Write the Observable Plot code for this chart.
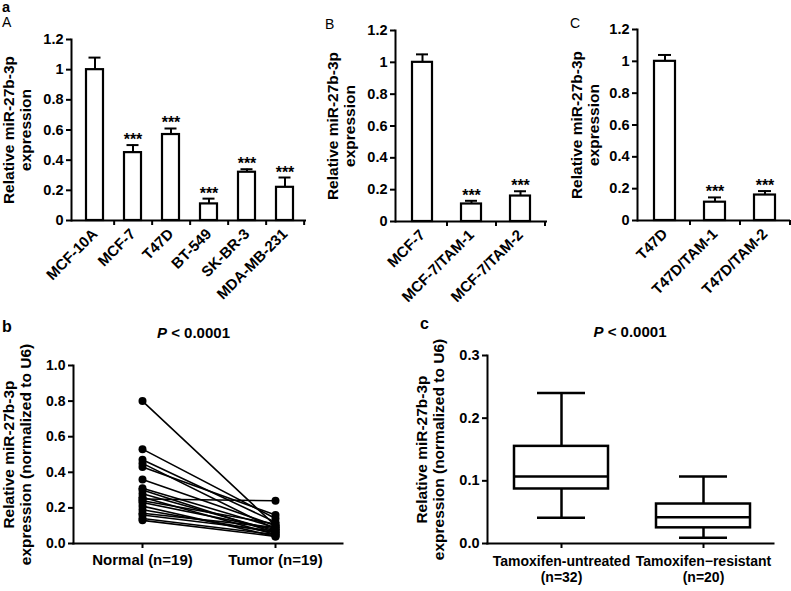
<!DOCTYPE html>
<html><head><meta charset="utf-8">
<script src="https://cdn.jsdelivr.net/npm/d3@7"></script>
<script src="https://cdn.jsdelivr.net/npm/@observablehq/plot@0.6"></script>
<style>
body{margin:0;background:#fff;}
#wrap{position:relative;width:791px;height:591px;overflow:hidden;font-family:"Liberation Sans",Arial,sans-serif;color:#000;background:#fff;}
#wrap svg{position:absolute;left:0;top:0;}
.lab{position:absolute;line-height:1;white-space:nowrap;}
</style></head><body><div id="wrap"></div>
<script>
// ---- Panel a: bar charts ----
const cellsA = ["MCF-10A","MCF-7","T47D","BT-549","SK-BR-3","MDA-MB-231"];
const valuesA = [1.0,0.45,0.57,0.11,0.32,0.22];
const errorsA = [0.08,0.05,0.04,0.035,0.02,0.065];
const starsA = ["","***","***","***","***","***"];

const cellsB = ["MCF-7","MCF-7/TAM-1","MCF-7/TAM-2"];
const valuesB = [1.0,0.11,0.16];
const errorsB = [0.05,0.02,0.03];
const starsB = ["","***","***"];

const cellsC = ["T47D","T47D/TAM-1","T47D/TAM-2"];
const valuesC = [1.0,0.115,0.16];
const errorsC = [0.04,0.03,0.025];
const starsC = ["","***","***"];

const barTicks = [0,0.2,0.4,0.6,0.8,1,1.2];
const barLabel = "Relative miR-27b-3p\nexpression";

// ---- Panel b: paired normal vs tumor ----
const groupsPaired = ["Normal (n=19)","Tumor (n=19)"];
const normalVals = [0.80,0.53,0.47,0.45,0.43,0.36,0.31,0.30,0.28,0.26,0.25,0.24,0.23,0.21,0.19,0.17,0.16,0.14,0.13];
const tumorVals  = [0.10,0.14,0.12,0.08,0.16,0.10,0.09,0.06,0.07,0.05,0.24,0.11,0.08,0.04,0.06,0.09,0.07,0.05,0.04];
const pairedTicks = [0,0.2,0.4,0.6,0.8,1.0];

// ---- Panel c: box plot ----
const boxGroups = ["Tamoxifen-untreated\n(n=32)","Tamoxifen\u2212resistant\n(n=20)"];
const boxMin = [0.041,0.009];
const boxQ1 = [0.087,0.025];
const boxMedian = [0.107,0.042];
const boxQ3 = [0.155,0.063];
const boxMax = [0.240,0.107];
const boxTicks = [0,0.1,0.2,0.3];

const lowerLabel = "Relative miR-27b-3p\nexpression (normalized to U6)";

const FONT = "'Liberation Sans', Arial, sans-serif";
const baseStyle = {fontFamily: FONT, fontWeight: "bold", fontSize: "14.5px", background: "transparent", color: "black", overflow: "visible"};

const wrap = document.getElementById("wrap");

function barPanel(cfg) {
  const rows = cfg.cats.map((c,i)=>({c, v: cfg.vals[i], e: cfg.errs[i], s: cfg.stars[i]}));
  const step = (cfg.range[1]-cfg.range[0]) / cfg.cats.length;
  return Plot.plot({
    width: 791, height: 591,
    marginLeft: cfg.mLeft, marginRight: cfg.mRight, marginTop: cfg.mTop, marginBottom: cfg.mBottom,
    x: {domain: cfg.cats, range: cfg.range, paddingInner: cfg.pad, paddingOuter: cfg.pad/2},
    y: {domain: [0, 1.2]},
    style: baseStyle,
    marks: [
      Plot.ruleX(rows, {x: "c", y1: "v", y2: d=>d.v+d.e, strokeWidth: 2}),
      Plot.tickY(rows, {x: "c", y: d=>d.v+d.e, strokeWidth: 2, insetLeft: cfg.cap, insetRight: cfg.cap}),
      Plot.barY(rows, {x: "c", y: "v", fill: "white", stroke: "black", strokeWidth: 2.2}),
      Plot.text(rows, {x: "c", y: d=>d.v+d.e, text: "s", lineAnchor: "bottom", fontSize: 16, dy: 0}),
      Plot.frame({anchor: "left", strokeWidth: 2}),
      Plot.ruleY([0], {strokeWidth: 2}),
      Plot.axisY({ticks: barTicks, tickSize: 5, tickPadding: 3, tickFormat: d3.format("~g"), label: null, strokeWidth: 2, fontSize: 14.5}),
      Plot.axisX({ticks: cfg.cats, tickSize: 5, dx: step/2, tickFormat: () => "", label: null, strokeWidth: 2}),
      Plot.axisX({tickSize: 0, tickRotate: -45, tickPadding: 11, label: null, fontSize: 15}),
      Plot.text([barLabel], {frameAnchor: "left", rotate: -90, dx: cfg.labelDx, fontSize: 15.5, lineHeight: 1.1, textAnchor: "middle", lineAnchor: "middle"})
    ]
  });
}

wrap.appendChild(barPanel({cats: cellsA, vals: valuesA, errs: errorsA, stars: starsA,
  mLeft: 71, mRight: 485, mTop: 39, mBottom: 371, range: [74.85, 304.65], pad: 0.556, cap: 2.5, labelDx: -54}));
wrap.appendChild(barPanel({cats: cellsB, vals: valuesB, errs: errorsB, stars: starsB,
  mLeft: 395, mRight: 244, mTop: 30, mBottom: 370, range: [397.5, 544.5], pad: 0.59, cap: 4, labelDx: -54}));
wrap.appendChild(barPanel({cats: cellsC, vals: valuesC, errs: errorsC, stars: starsC,
  mLeft: 637, mRight: 1, mTop: 29, mBottom: 371, range: [639, 789], pad: 0.58, cap: 4, labelDx: -52}));

// Panel b
const pairs = normalVals.flatMap((v,i)=>[{id:i, g:groupsPaired[0], v}, {id:i, g:groupsPaired[1], v: tumorVals[i]}]);
wrap.appendChild(Plot.plot({
  width: 791, height: 591,
  marginLeft: 73, marginRight: 449, marginTop: 365, marginBottom: 48,
  x: {type: "point", domain: groupsPaired, range: [142, 275], padding: 0},
  y: {domain: [0, 1.0]},
  style: baseStyle,
  marks: [
    Plot.line(pairs, {x: "g", y: "v", z: "id", strokeWidth: 1.6}),
    Plot.dot(pairs, {x: "g", y: "v", r: 4, fill: "black"}),
    Plot.frame({anchor: "left", strokeWidth: 2}),
    Plot.frame({anchor: "bottom", strokeWidth: 2}),
    Plot.axisY({ticks: pairedTicks, tickSize: 5, tickPadding: 3, tickFormat: d3.format(".1f"), label: null, strokeWidth: 2, fontSize: 14}),
    Plot.axisX({tickSize: 5, tickPadding: 6, label: null, strokeWidth: 2, fontSize: 15}),
    Plot.text([lowerLabel], {frameAnchor: "left", rotate: -90, dx: -56, fontSize: 15.5, lineHeight: 1.1, textAnchor: "middle", lineAnchor: "middle"})
  ]
}));

// Panel c
const boxRows = boxGroups.map((g,i)=>({g, min: boxMin[i], q1: boxQ1[i], med: boxMedian[i], q3: boxQ3[i], max: boxMax[i]}));
wrap.appendChild(Plot.plot({
  width: 791, height: 591,
  marginLeft: 487, marginRight: 18, marginTop: 355, marginBottom: 48,
  x: {domain: boxGroups, range: [490, 774], paddingInner: 0.338, paddingOuter: 0.169},
  y: {domain: [0, 0.3]},
  style: baseStyle,
  marks: [
    Plot.ruleX(boxRows, {x: "g", y1: "min", y2: "max", strokeWidth: 2.5}),
    Plot.tickY(boxRows, {x: "g", y: "min", strokeWidth: 2.5, insetLeft: 23, insetRight: 23}),
    Plot.tickY(boxRows, {x: "g", y: "max", strokeWidth: 2.5, insetLeft: 23, insetRight: 23}),
    Plot.barY(boxRows, {x: "g", y1: "q1", y2: "q3", fill: "white", stroke: "black", strokeWidth: 2.5}),
    Plot.tickY(boxRows, {x: "g", y: "med", strokeWidth: 2.5}),
    Plot.frame({anchor: "left", strokeWidth: 2}),
    Plot.frame({anchor: "bottom", strokeWidth: 2}),
    Plot.axisY({ticks: boxTicks, tickSize: 5, tickPadding: 3, tickFormat: d3.format(".1f"), label: null, strokeWidth: 2, fontSize: 14.5}),
    Plot.axisX({tickSize: 5, tickPadding: 6, label: null, strokeWidth: 2, fontSize: 14, lineHeight: 1.15}),
    Plot.text([lowerLabel], {frameAnchor: "left", rotate: -90, dx: -57, fontSize: 15.5, lineHeight: 1.1, textAnchor: "middle", lineAnchor: "middle"})
  ]
}));

// Panel letters and titles
function lab(html, left, top, css) {
  const d = document.createElement("div");
  d.className = "lab";
  d.innerHTML = html;
  d.style.left = left + "px";
  d.style.top = top + "px";
  Object.assign(d.style, css || {});
  wrap.appendChild(d);
}
lab("a", 2, 0, {fontWeight: "bold", fontSize: "14.5px"});
lab("A", 2, 15, {fontSize: "14px"});
lab("B", 325, 17, {fontSize: "14px"});
lab("C", 570, 16, {fontSize: "14px"});
lab("b", 2, 319, {fontWeight: "bold", fontSize: "16px"});
lab("c", 420, 316, {fontWeight: "bold", fontSize: "16px"});
lab("<i>P</i> &lt; 0.0001", 193.5, 325, {fontWeight: "bold", fontSize: "15px", transform: "translateX(-50%)"});
lab("<i>P</i> &lt; 0.0001", 630, 324, {fontWeight: "bold", fontSize: "15px", transform: "translateX(-50%)"});
</script>
</body></html>
